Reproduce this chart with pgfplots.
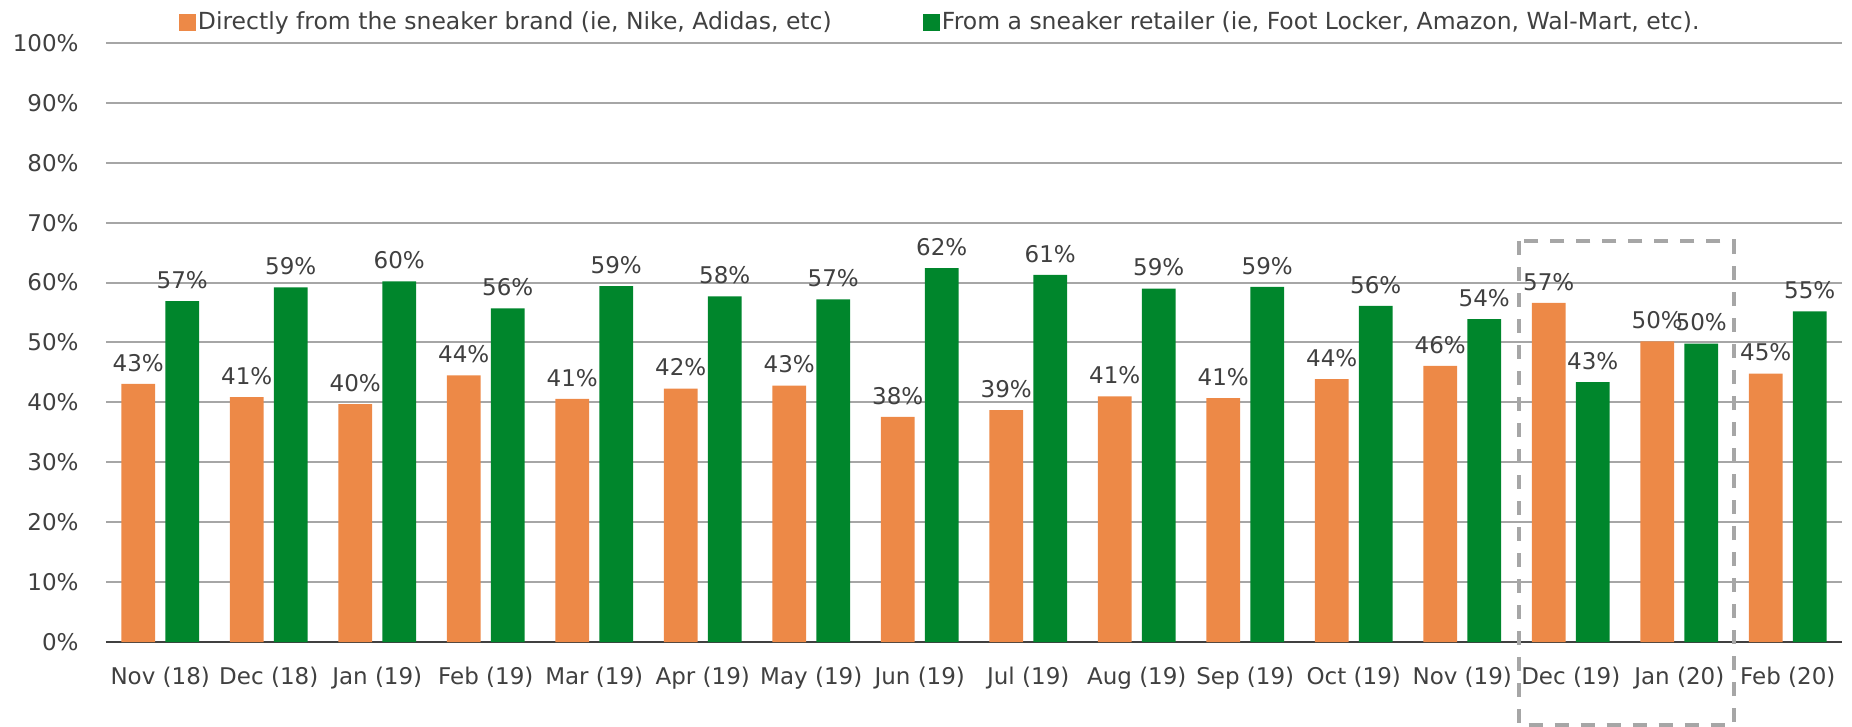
\documentclass[border=0pt]{standalone}
\usepackage{fontspec}
\setmainfont{DejaVu Sans}
\usepackage{pgfplots}
\pgfplotsset{compat=1.18}
\usepackage{pgfplotstable}
\definecolor{sorange}{RGB}{237,137,71}
\definecolor{sgreen}{RGB}{0,134,44}
\definecolor{txt}{RGB}{64,64,64}
\definecolor{gridc}{RGB}{166,166,166}
\newcommand\f{\fontsize{11.5bp}{13.8bp}\selectfont}
\newcommand\fl{\fontsize{11.75bp}{14bp}\selectfont}
\pgfplotstableread{
x o ol g gl
0 43.1 43 56.9 57
1 40.9 41 59.2 59
2 39.7 40 60.2 60
3 44.5 44 55.7 56
4 40.6 41 59.4 59
5 42.3 42 57.7 58
6 42.8 43 57.2 57
7 37.6 38 62.4 62
8 38.7 39 61.3 61
9 41.0 41 59.0 59
10 40.7 41 59.3 59
11 43.9 44 56.1 56
12 46.1 46 53.9 54
13 56.6 57 43.4 43
14 50.2 50 49.8 50
15 44.8 45 55.2 55
}\data
\begin{document}
\begin{tikzpicture}
\useasboundingbox (-53bp,-42.5bp) rectangle (873bp,321bp);
\begin{axis}[
 at={(0,0)}, anchor=south west,
 scale only axis, width=868bp, height=299.5bp,
 xmin=-0.5, xmax=15.5, ymin=0, ymax=100,
 ybar=5.2bp, bar width=16.8bp,
 xtick={0,...,15},
 xticklabels={Nov (18),Dec (18),Jan (19),Feb (19),Mar (19),Apr (19),May (19),Jun (19),Jul (19),Aug (19),Sep (19),Oct (19),Nov (19),Dec (19),Jan (20),Feb (20)},
 ytick={0,10,...,100},
 yticklabels={0\%,10\%,20\%,30\%,40\%,50\%,60\%,70\%,80\%,90\%,100\%},
 ymajorgrids, grid style={gridc, line width=1bp},
 axis line style={draw=none},
 major tick length=0pt,
 tick label style={font=\f, text=txt},
 xticklabel style={anchor=north, inner sep=0pt, yshift=-12.5bp},
 yticklabel style={anchor=east, inner sep=0pt, xshift=-13.5bp},
 extra y ticks={0}, extra y tick labels={},
 extra y tick style={grid style={txt, line width=1.3bp}},
 clip=false,
 nodes near coords={\pgfplotspointmeta\%},
 point meta=explicit symbolic,
 every node near coord/.append style={font=\f, text=txt, inner sep=0pt, yshift=6bp, anchor=south},
 legend columns=2,
 legend style={draw=none, fill=none, at={(0.042,1.035)}, anchor=west, inner sep=0pt,
   font=\fl, text=txt, nodes={inner sep=0.8bp},
   /tikz/every even column/.append style={column sep=45bp}, cells={anchor=west}},
]
\addplot[fill=sorange, draw=none, legend image code/.code={\fill[sorange] (0bp,-4.25bp) rectangle (8.5bp,4.25bp);}]
  table[x=x, y=o, meta=ol] {\data};
\addlegendentry{Directly from the sneaker brand (ie, Nike, Adidas, etc)}
\addplot[fill=sgreen, draw=none, legend image code/.code={\fill[sgreen] (0bp,-4.25bp) rectangle (8.5bp,4.25bp);}]
  table[x=x, y=g, meta=gl] {\data};
\addlegendentry{From a sneaker retailer (ie, Foot Locker, Amazon, Wal-Mart, etc).}
\draw[gridc, line width=2bp, dash pattern=on 7bp off 6bp] (axis cs:12.52,66.9) rectangle (axis cs:14.5,-13.9);
\end{axis}
\end{tikzpicture}
\end{document}
